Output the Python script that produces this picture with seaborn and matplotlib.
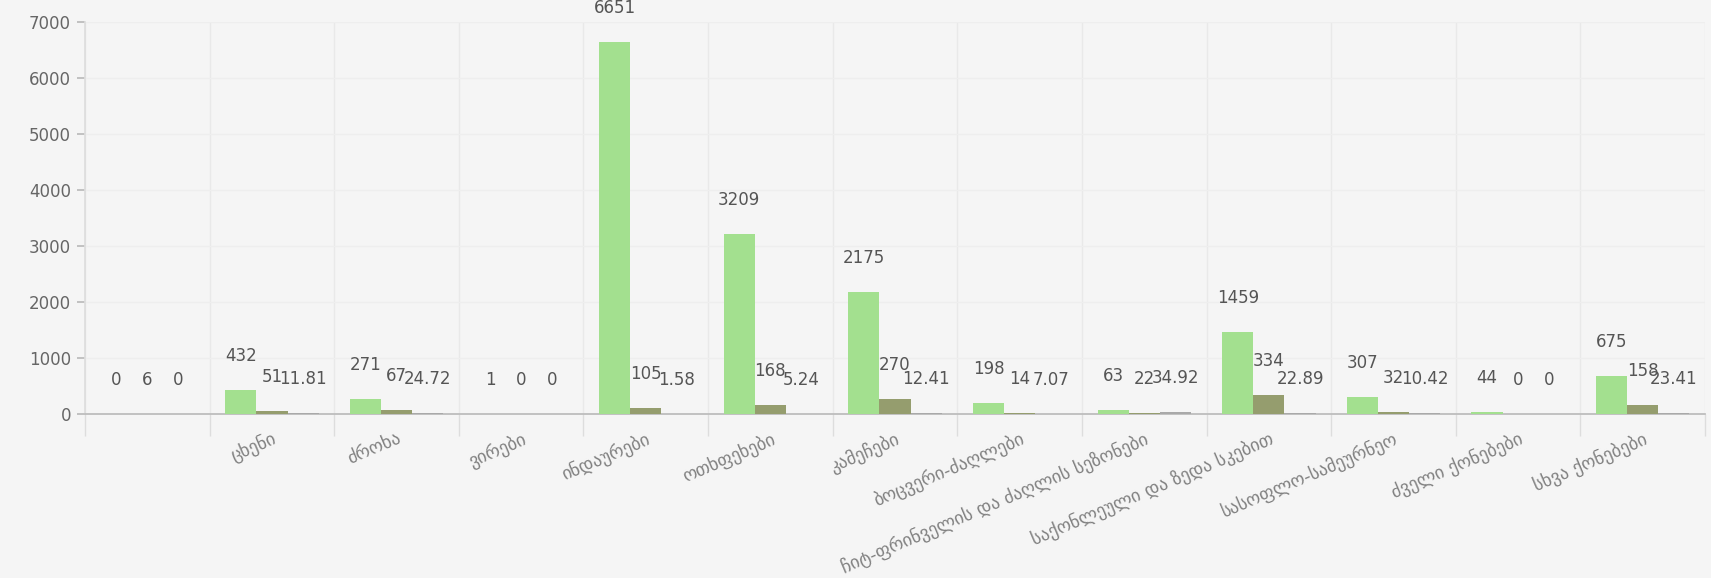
import numpy as np
import pandas as pd
import matplotlib
matplotlib.use("Agg")
import matplotlib.pyplot as plt
import seaborn as sns

# ---- data ----
categories = ["", "ცხენი", "ძროხა", "ვირები", "ინდაურები", "ოთხფეხები", "კამეჩები",
              "ბოცვერი-ძაღლები", "ჩიტ-ფრინველის და ძაღლის სეზონები",
              "საქონლეული და ზედა სკებით", "სასოფლო-სამეურნეო",
              "ძველი ქონებები", "სხვა ქონებები"]
series_names = ["რაოდენობა", "ნაწილი", "პროცენტი"]
count_a = [0, 432, 271, 1, 6651, 3209, 2175, 198, 63, 1459, 307, 44, 675]
count_b = [6, 51, 67, 0, 105, 168, 270, 14, 22, 334, 32, 0, 158]
percent = [0, 11.81, 24.72, 0, 1.58, 5.24, 12.41, 7.07, 34.92, 22.89, 10.42, 0, 23.41]
yticks = [0, 1000, 2000, 3000, 4000, 5000, 6000, 7000]

colors = ["#a3e08f", "#959d6e", "#a9a9a9"]
bg = "#f5f5f5"

df = pd.DataFrame({
    "category": categories * 3,
    "series": [series_names[0]] * len(categories) + [series_names[1]] * len(categories)
              + [series_names[2]] * len(categories),
    "value": count_a + count_b + percent,
})

sns.set_theme(style="white")
plt.rcParams["font.family"] = ["DejaVu Sans"]

fig = plt.figure(figsize=(17.11, 5.78), dpi=100, facecolor=bg)
ax = fig.add_axes([85 / 1711, 1 - 414 / 578, (1705 - 85) / 1711, (414 - 22) / 578])
ax.set_facecolor(bg)

sns.barplot(data=df, x="category", y="value", hue="series", order=categories,
            hue_order=series_names, palette=colors, width=0.75, gap=0,
            saturation=1, legend=False, ax=ax, zorder=3,
            linewidth=0, edgecolor="none")


def fmt(v, pct=False):
    if pct:
        return "0" if v == 0 else f"{v:.2f}"
    return f"{v:g}"


label_sets = [[fmt(v) for v in count_a], [fmt(v) for v in count_b],
              [fmt(v, True) for v in percent]]
for cont, labs in zip(ax.containers, label_sets):
    ax.bar_label(cont, labels=labs, padding=18, fontsize=12, color="#555555")

ax.set_xlim(-0.5, len(categories) - 0.5)
ax.set_ylim(0, 7000)
ax.set_yticks(yticks)
ax.set_yticklabels([str(t) for t in yticks], fontsize=12, color="#666666")
ax.tick_params(axis="y", length=6, color="#bbbbbb", pad=4, left=True)

ax.set_xticks(range(len(categories)))
ax.set_xticklabels(categories, rotation=23, ha="right", rotation_mode="anchor",
                   fontsize=13, color="#808080")
ax.tick_params(axis="x", which="major", length=0, pad=11)
ax.set_xticks(np.arange(-0.5, len(categories), 1), minor=True)
ax.tick_params(axis="x", which="minor", length=16, color="#dddddd", bottom=True)

ax.grid(True, which="minor", axis="x", color="#e9e9e9", linewidth=1, zorder=0)
ax.grid(True, which="major", axis="y", color="#eeeeee", linewidth=1, zorder=0)
ax.set_xlabel("")
ax.set_ylabel("")

for s in ["top", "right"]:
    ax.spines[s].set_visible(False)
ax.spines["left"].set_color("#dddddd")
ax.spines["bottom"].set_color("#bbbbbb")

fig.savefig("out.png", dpi=100, facecolor=bg)
